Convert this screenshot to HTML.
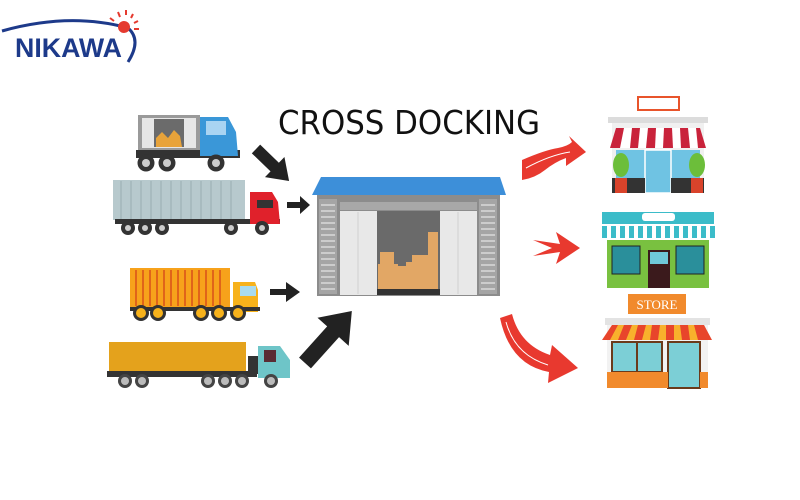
<!DOCTYPE html>
<html><head><meta charset="utf-8"><style>
html,body{margin:0;padding:0;background:#fff;width:800px;height:500px;overflow:hidden}
svg{display:block}
</style></head><body>
<svg width="800" height="500" viewBox="0 0 800 500" xmlns="http://www.w3.org/2000/svg">
<rect width="800" height="500" fill="#fff"/>
<!-- logo -->
<path d="M2 31 Q70 12 128 28 Q142 40 128 62" fill="none" stroke="#1d3a8a" stroke-width="3"/>
<circle cx="124" cy="27" r="6" fill="#e53a2f"/>
<g stroke="#e53a2f" stroke-width="2"><line x1="110" y1="18" x2="114" y2="21"/><line x1="118" y1="12" x2="120" y2="17"/><line x1="126" y1="10" x2="126" y2="15"/><line x1="133" y1="14" x2="131" y2="18"/><line x1="138" y1="21" x2="134" y2="23"/><line x1="139" y1="29" x2="134" y2="29"/></g>
<text x="15" y="57" font-family="Liberation Sans, sans-serif" font-weight="bold" font-size="27" fill="#1d3a8a" textLength="107" lengthAdjust="spacingAndGlyphs">NIKAWA</text>
<!-- title -->
<text x="278" y="134" font-family="DejaVu Sans, sans-serif" font-size="33" fill="#111" textLength="262" lengthAdjust="spacingAndGlyphs">CROSS DOCKING</text>

<!-- truck 1 -->
<rect x="138" y="115" width="62" height="36" fill="#9a9a9a"/>
<rect x="142" y="118" width="54" height="30" fill="#e6e6e6"/>
<rect x="154" y="119" width="30" height="28" fill="#6b6b6b"/>
<path d="M156 147 L156 138 L162 132 L168 138 L174 130 L180 136 L182 147Z" fill="#e8a33a"/>
<rect x="136" y="150" width="104" height="8" fill="#333"/>
<path d="M200 117 L228 117 L236 132 L238 156 L200 156Z" fill="#3a97d8"/>
<rect x="206" y="121" width="20" height="14" fill="#a9d4f2"/>
<g fill="#333"><circle cx="146" cy="163" r="8.5"/><circle cx="167" cy="163" r="8.5"/><circle cx="216" cy="163" r="8.5"/></g>
<g fill="#ccc"><circle cx="146" cy="163" r="4"/><circle cx="167" cy="163" r="4"/><circle cx="216" cy="163" r="4"/></g>

<!-- truck 2 -->
<rect x="113" y="180" width="132" height="40" fill="#b7c9cd"/>
<g stroke="#9fb2b6" stroke-width="1.2"><line x1="121" y1="181" x2="121" y2="219"/><line x1="131" y1="181" x2="131" y2="219"/><line x1="141" y1="181" x2="141" y2="219"/><line x1="151" y1="181" x2="151" y2="219"/><line x1="161" y1="181" x2="161" y2="219"/><line x1="171" y1="181" x2="171" y2="219"/><line x1="181" y1="181" x2="181" y2="219"/><line x1="191" y1="181" x2="191" y2="219"/><line x1="201" y1="181" x2="201" y2="219"/><line x1="211" y1="181" x2="211" y2="219"/><line x1="221" y1="181" x2="221" y2="219"/><line x1="231" y1="181" x2="231" y2="219"/></g>
<rect x="115" y="219" width="165" height="5" fill="#333"/>
<path d="M250 192 L272 192 L278 202 L280 224 L250 224Z" fill="#e0212b"/>
<rect x="257" y="200" width="16" height="8" fill="#333"/>
<g fill="#333"><circle cx="128" cy="228" r="7"/><circle cx="145" cy="228" r="7"/><circle cx="162" cy="228" r="7"/><circle cx="231" cy="228" r="7"/><circle cx="262" cy="228" r="7"/></g>
<g fill="#ccc"><circle cx="128" cy="228" r="3"/><circle cx="145" cy="228" r="3"/><circle cx="162" cy="228" r="3"/><circle cx="231" cy="228" r="3"/><circle cx="262" cy="228" r="3"/></g>

<!-- truck 3 -->
<rect x="130" y="268" width="100" height="40" fill="#f7a21b"/>
<g stroke="#e0641a" stroke-width="2"><line x1="136" y1="270" x2="136" y2="306"/><line x1="143" y1="270" x2="143" y2="306"/><line x1="150" y1="270" x2="150" y2="306"/><line x1="157" y1="270" x2="157" y2="306"/><line x1="164" y1="270" x2="164" y2="306"/><line x1="171" y1="270" x2="171" y2="306"/><line x1="178" y1="270" x2="178" y2="306"/><line x1="185" y1="270" x2="185" y2="306"/><line x1="192" y1="270" x2="192" y2="306"/><line x1="199" y1="270" x2="199" y2="306"/><line x1="206" y1="270" x2="206" y2="306"/><line x1="213" y1="270" x2="213" y2="306"/><line x1="220" y1="270" x2="220" y2="306"/></g>
<path d="M233 282 L255 282 L258 290 L258 312 L233 312Z" fill="#f7b21b"/>
<rect x="240" y="286" width="16" height="10" fill="#a9dbee"/>
<rect x="130" y="307" width="130" height="4" fill="#333"/>
<g fill="#333"><circle cx="141" cy="313" r="8"/><circle cx="158" cy="313" r="8"/><circle cx="201" cy="313" r="8"/><circle cx="219" cy="313" r="8"/><circle cx="238" cy="313" r="8"/></g>
<g fill="#f7b21b"><circle cx="141" cy="313" r="5"/><circle cx="158" cy="313" r="5"/><circle cx="201" cy="313" r="5"/><circle cx="219" cy="313" r="5"/><circle cx="238" cy="313" r="5"/></g>

<!-- truck 4 -->
<rect x="109" y="342" width="137" height="31" fill="#e4a21c"/>
<rect x="107" y="371" width="150" height="6" fill="#333"/>
<rect x="248" y="356" width="10" height="18" fill="#333"/>
<path d="M258 346 L280 346 L290 360 L290 378 L258 378Z" fill="#6ec5c8"/>
<rect x="264" y="350" width="12" height="12" fill="#5a2b33"/>
<g fill="#444"><circle cx="125" cy="381" r="7"/><circle cx="142" cy="381" r="7"/><circle cx="208" cy="381" r="7"/><circle cx="225" cy="381" r="7"/><circle cx="242" cy="381" r="7"/><circle cx="271" cy="381" r="7"/></g>
<g fill="#bbb"><circle cx="125" cy="381" r="4"/><circle cx="142" cy="381" r="4"/><circle cx="208" cy="381" r="4"/><circle cx="225" cy="381" r="4"/><circle cx="242" cy="381" r="4"/><circle cx="271" cy="381" r="4"/></g>

<!-- black arrows -->
<g fill="#222">
<path transform="translate(256,149) rotate(44)" d="M0 -6 L26 -6 L26 -14 L46 0 L26 14 L26 6 L0 6Z"/>
<path d="M287 202 L300 202 L300 196 L310 205 L300 214 L300 208 L287 208Z"/>
<path d="M270 289 L286 289 L286 282 L300 292 L286 302 L286 295 L270 295Z"/>
<path transform="translate(305,363) rotate(-48)" d="M0 -8 L42 -8 L42 -21 L70 0 L42 21 L42 8 L0 8Z"/>
</g>

<!-- warehouse -->
<polygon points="312,195 321,177 500,177 506,195" fill="#3d8fd9"/>
<rect x="317" y="195" width="183" height="101" fill="#8c8c8c"/>
<rect x="319" y="199" width="18" height="95" fill="#a5a5a5"/>
<rect x="479" y="199" width="18" height="95" fill="#a5a5a5"/>
<g stroke="#d9d9d9" stroke-width="1.5">
<line x1="321" y1="205" x2="335" y2="205"/><line x1="321" y1="211" x2="335" y2="211"/><line x1="321" y1="217" x2="335" y2="217"/><line x1="321" y1="223" x2="335" y2="223"/><line x1="321" y1="229" x2="335" y2="229"/><line x1="321" y1="235" x2="335" y2="235"/><line x1="321" y1="241" x2="335" y2="241"/><line x1="321" y1="247" x2="335" y2="247"/><line x1="321" y1="253" x2="335" y2="253"/><line x1="321" y1="259" x2="335" y2="259"/><line x1="321" y1="265" x2="335" y2="265"/><line x1="321" y1="271" x2="335" y2="271"/><line x1="321" y1="277" x2="335" y2="277"/><line x1="321" y1="283" x2="335" y2="283"/><line x1="321" y1="289" x2="335" y2="289"/>
<line x1="481" y1="205" x2="495" y2="205"/><line x1="481" y1="211" x2="495" y2="211"/><line x1="481" y1="217" x2="495" y2="217"/><line x1="481" y1="223" x2="495" y2="223"/><line x1="481" y1="229" x2="495" y2="229"/><line x1="481" y1="235" x2="495" y2="235"/><line x1="481" y1="241" x2="495" y2="241"/><line x1="481" y1="247" x2="495" y2="247"/><line x1="481" y1="253" x2="495" y2="253"/><line x1="481" y1="259" x2="495" y2="259"/><line x1="481" y1="265" x2="495" y2="265"/><line x1="481" y1="271" x2="495" y2="271"/><line x1="481" y1="277" x2="495" y2="277"/><line x1="481" y1="283" x2="495" y2="283"/><line x1="481" y1="289" x2="495" y2="289"/>
</g>
<rect x="340" y="202" width="137" height="8" fill="#a8a8a8"/>
<rect x="340" y="211" width="37" height="84" fill="#e8e8e8"/>
<rect x="440" y="211" width="37" height="84" fill="#e8e8e8"/>
<g stroke="#cfcfcf" stroke-width="1"><line x1="358" y1="212" x2="358" y2="294"/><line x1="458" y1="212" x2="458" y2="294"/></g>
<rect x="377" y="211" width="63" height="84" fill="#6a6a6a"/>
<g fill="#e2a765">
<rect x="380" y="252" width="14" height="12"/><rect x="378" y="264" width="20" height="26"/><rect x="398" y="266" width="14" height="24"/><rect x="406" y="262" width="12" height="8"/><rect x="412" y="255" width="26" height="35"/><rect x="428" y="232" width="10" height="24"/>
</g>
<rect x="377" y="289" width="63" height="6" fill="#333"/>

<!-- red arrows -->
<g fill="#e8392f">
<path d="M522 160 Q545 150 558 148 Q568 146 572 142 L569 136 L586 152 L566 166 L566 158 Q555 162 545 170 Q535 178 522 180Z"/>
<path d="M533 240 L560 244 L556 232 L580 248 L556 264 L560 252 L533 256 L552 248Z"/>
<path d="M500 318 L512 314 Q520 345 550 355 L552 345 L578 368 L548 383 L549 372 Q510 365 500 318Z"/>
</g>
<g fill="none" stroke="#fff" stroke-width="1"><path d="M526 168 Q550 155 570 152"/><path d="M506 322 Q515 355 548 365"/></g>

<!-- store 1 -->
<rect x="638" y="97" width="41" height="13" fill="#fff" stroke="#e8542b" stroke-width="2"/>
<rect x="608" y="117" width="100" height="6" fill="#dcdcdc"/>
<rect x="612" y="123" width="92" height="70" fill="#f0f0f0"/>
<rect x="616" y="150" width="84" height="30" fill="#6fc3e3"/>
<rect x="645" y="150" width="26" height="43" fill="#6fc3e3" stroke="#fff" stroke-width="1.5"/>
<path d="M616 128 L700 128 L706 148 L610 148Z" fill="#c9233b"/>
<g fill="#fff"><path d="M624 128 L632 128 L630 148 L620 148Z"/><path d="M640 128 L648 128 L646 148 L638 148Z"/><path d="M656 128 L664 128 L663 148 L655 148Z"/><path d="M672 128 L680 128 L681 148 L673 148Z"/><path d="M688 128 L696 128 L698 148 L690 148Z"/></g>
<rect x="612" y="178" width="33" height="15" fill="#333"/><rect x="671" y="178" width="33" height="15" fill="#333"/>
<ellipse cx="621" cy="165" rx="8" ry="12" fill="#6cbe3a"/><ellipse cx="697" cy="165" rx="8" ry="12" fill="#6cbe3a"/>
<rect x="615" y="178" width="12" height="15" fill="#d9432b"/><rect x="691" y="178" width="12" height="15" fill="#d9432b"/>

<!-- store 2 -->
<rect x="602" y="212" width="112" height="12" fill="#3bbcc9"/>
<rect x="642" y="213" width="33" height="8" rx="3" fill="#fff"/>
<rect x="600" y="224" width="116" height="14" fill="#fff"/>
<g fill="#3bbcc9"><rect x="602" y="226" width="5" height="12"/><rect x="611" y="226" width="5" height="12"/><rect x="620" y="226" width="5" height="12"/><rect x="629" y="226" width="5" height="12"/><rect x="638" y="226" width="5" height="12"/><rect x="647" y="226" width="5" height="12"/><rect x="656" y="226" width="5" height="12"/><rect x="665" y="226" width="5" height="12"/><rect x="674" y="226" width="5" height="12"/><rect x="683" y="226" width="5" height="12"/><rect x="692" y="226" width="5" height="12"/><rect x="701" y="226" width="5" height="12"/><rect x="710" y="226" width="5" height="12"/></g>
<rect x="607" y="240" width="102" height="48" fill="#79c140"/>
<rect x="612" y="246" width="28" height="28" fill="#2a8f9b" stroke="#222" stroke-width="1"/>
<rect x="676" y="246" width="28" height="28" fill="#2a8f9b" stroke="#222" stroke-width="1"/>
<rect x="648" y="250" width="22" height="38" fill="#3b1a1c"/>
<rect x="650" y="252" width="18" height="12" fill="#6fc8d8"/>

<!-- store 3 -->
<rect x="628" y="294" width="58" height="20" fill="#f18a2c"/>
<text x="657" y="309" text-anchor="middle" font-family="Liberation Serif, serif" font-size="13" fill="#fff">STORE</text>
<rect x="605" y="318" width="105" height="7" fill="#e3e3e3"/>
<rect x="607" y="325" width="101" height="63" fill="#f2f2f2"/>
<path d="M612 325 L704 325 L712 340 L602 340Z" fill="#e8452b"/>
<g fill="#f8b12c"><path d="M618 325 L624 325 L618 340 L610 340Z"/><path d="M632 325 L638 325 L634 340 L626 340Z"/><path d="M646 325 L652 325 L650 340 L642 340Z"/><path d="M660 325 L666 325 L666 340 L658 340Z"/><path d="M674 325 L680 325 L682 340 L674 340Z"/><path d="M688 325 L694 325 L698 340 L690 340Z"/></g>
<rect x="612" y="342" width="50" height="30" fill="#7ccfd6" stroke="#6b3a1a" stroke-width="2"/>
<line x1="637" y1="342" x2="637" y2="372" stroke="#6b3a1a" stroke-width="2"/>
<rect x="668" y="342" width="32" height="46" fill="#7ccfd6" stroke="#6b3a1a" stroke-width="2"/>
<rect x="607" y="372" width="61" height="16" fill="#f18a2c"/><rect x="700" y="372" width="8" height="16" fill="#f18a2c"/>
</svg>
</body></html>
